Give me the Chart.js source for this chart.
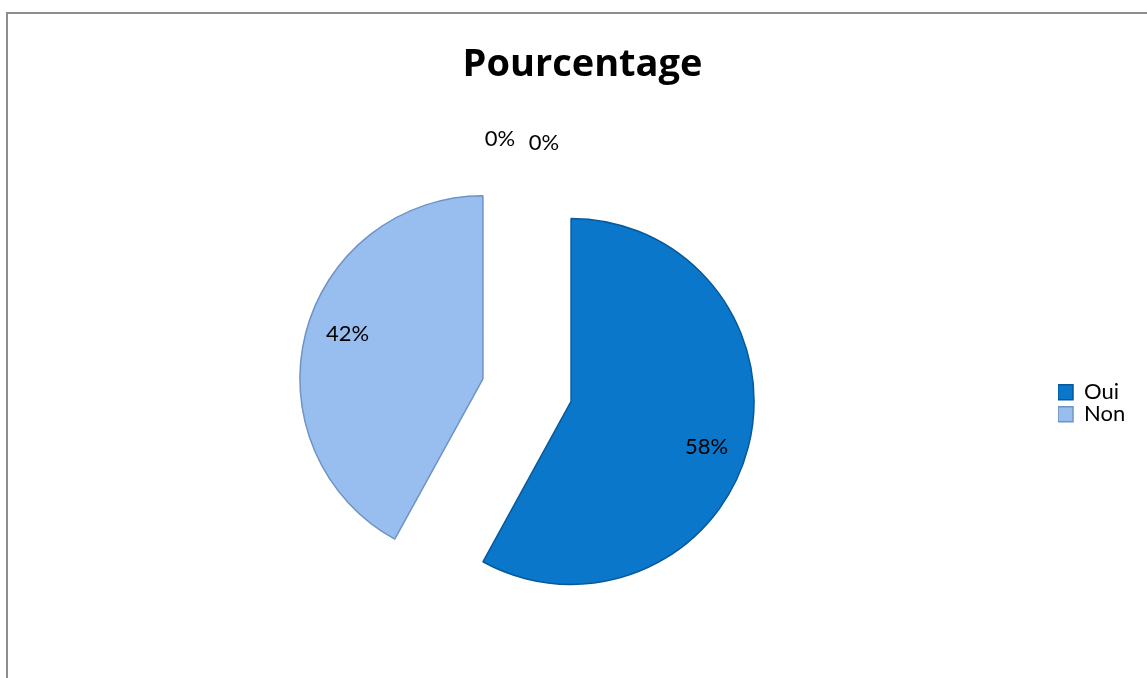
<!DOCTYPE html>
<html>
<head>
<meta charset="utf-8">
<script src="https://cdn.jsdelivr.net/npm/chart.js@4/dist/chart.umd.min.js"></script>
<style>
  html, body { margin: 0; padding: 0; background: #fff; overflow: hidden; width: 1147px; height: 678px; position: relative; }
  #chart { position: absolute; left: -4px; top: 0; }
  #frame { position: absolute; left: 6px; top: 12px; width: 1160px; height: 680px;
           border-left: 2px solid #8e8e8e; border-top: 2px solid #8e8e8e; pointer-events: none; }
</style>
</head>
<body>
<canvas id="chart" width="1173" height="678"></canvas>
<div id="frame"></div>
<script>
const categories = ['Oui', 'Non', '', ''];
const percentages = [58, 42, 0, 0];
const sliceColors = ['#0a77cb', '#98bef0', '#4f81bd', '#c0504d'];
const sliceBorders = ['#07599a', '#6f93c4', '#4f81bd', '#c0504d'];

// exploded pie: each arc element is drawn pushed out along its mid angle,
// then the percentage labels are written from the same geometry
const explodedPie = {
  id: 'explodedPie',
  beforeDatasetsDraw(chart, args, opts) {
    const ctx = chart.ctx;
    chart.getDatasetMeta(0).data.forEach(arc => {
      const p = arc.getProps(['startAngle', 'endAngle'], true);
      const mid = (p.startAngle + p.endAngle) / 2;
      ctx.save();
      ctx.translate(Math.cos(mid) * opts.distance, Math.sin(mid) * opts.distance);
      arc.draw(ctx);
      ctx.restore();
    });
    return false;
  },
  afterDraw(chart, args, opts) {
    const ctx = chart.ctx;
    const values = chart.data.datasets[0].data;
    let zeroCount = 0;
    ctx.save();
    ctx.font = '22px Lato';
    ctx.fillStyle = '#000';
    ctx.textAlign = 'center';
    ctx.textBaseline = 'middle';
    chart.getDatasetMeta(0).data.forEach((arc, i) => {
      const p = arc.getProps(['x', 'y', 'startAngle', 'endAngle', 'outerRadius'], true);
      const mid = (p.startAngle + p.endAngle) / 2;
      const cx = p.x + Math.cos(mid) * opts.distance;
      const cy = p.y + Math.sin(mid) * opts.distance;
      let x, y;
      if (values[i] > 0) {
        const a = mid + 4 * Math.PI / 180;
        x = cx + Math.cos(a) * p.outerRadius * 0.78;
        y = cy + Math.sin(a) * p.outerRadius * 0.78;
      } else {
        x = cx + Math.cos(mid) * (p.outerRadius + 21) + (zeroCount === 0 ? -27 : 17);
        y = cy + Math.sin(mid) * (p.outerRadius + 21) + (zeroCount === 0 ? -2 : 2);
        zeroCount++;
      }
      ctx.fillText(values[i] + '%', x, y);
    });
    ctx.restore();
  }
};

const baseLabels = Chart.overrides.doughnut.plugins.legend.labels.generateLabels;

new Chart(document.getElementById('chart'), {
  type: 'pie',
  data: {
    labels: categories,
    datasets: [{
      data: percentages,
      backgroundColor: sliceColors,
      borderColor: sliceBorders,
      borderWidth: 1.5,
      radius: 183
    }]
  },
  options: {
    responsive: false,
    animation: false,
    layout: { padding: { left: 0, right: 0, top: 0, bottom: 0 } },
    plugins: {
      explodedPie: { distance: 45.5 },
      title: {
        display: true,
        text: 'Pourcentage',
        color: '#000',
        font: { family: 'Open Sans', size: 38, weight: 'bold' },
        padding: { top: 42, bottom: 14.6 }
      },
      legend: {
        position: 'right',
        fullSize: false,
        title: { display: true, text: '', font: { size: 2 }, padding: { top: 24, bottom: 0 } },
        labels: {
          color: '#000',
          font: { family: 'Lato', size: 22 },
          boxWidth: 15,
          boxHeight: 15,
          padding: 0,
          // keep a wide legend column like the original, so the plot sits left of the title centre
          generateLabels: (chart) => baseLabels(chart).map(item => ({ ...item, text: item.text ? item.text + '\u00a0'.repeat(6) : '' })),
          filter: (item) => item.text !== ''
        }
      },
      tooltip: { enabled: false }
    }
  },
  plugins: [explodedPie]
});
</script>
</body>
</html>
